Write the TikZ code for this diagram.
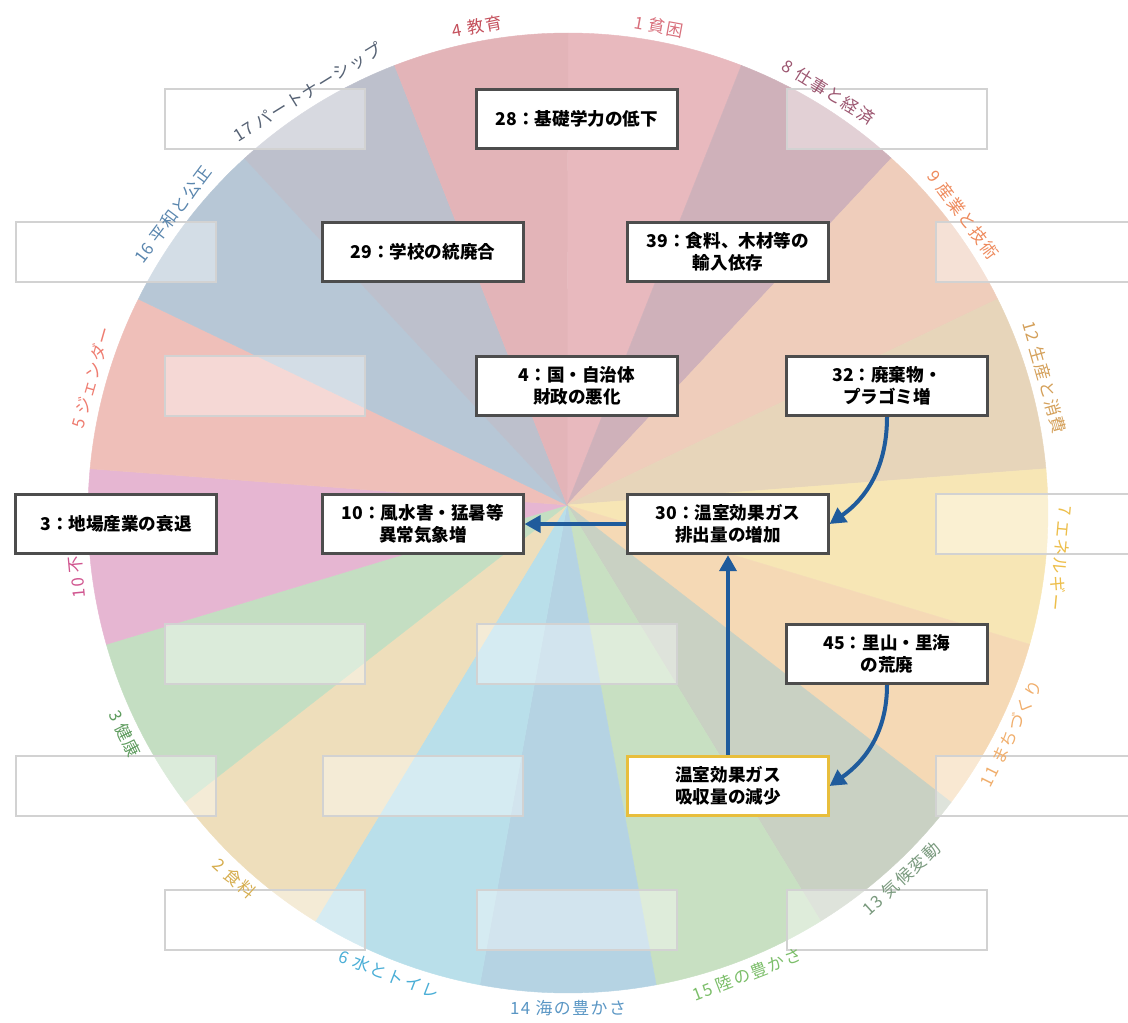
\documentclass[tikz,border=0pt]{standalone}
\usepackage{fontspec}
\setmainfont{Noto Sans CJK JP}
\newfontfamily\rimfont{Noto Sans CJK JP}[LetterSpace=9]
\usetikzlibrary{arrows.meta, positioning, calc}
% sector fills
\definecolor{pie1}{HTML}{E8B9BE}
\definecolor{pie2}{HTML}{EEDEBB}
\definecolor{pie3}{HTML}{C4DEC2}
\definecolor{pie4}{HTML}{E3B4B8}
\definecolor{pie5}{HTML}{EFBFB9}
\definecolor{pie6}{HTML}{B9DFEA}
\definecolor{pie7}{HTML}{F7E6B5}
\definecolor{pie8}{HTML}{CFB1BA}
\definecolor{pie9}{HTML}{EFCDBB}
\definecolor{pie10}{HTML}{E6B6D2}
\definecolor{pie11}{HTML}{F5D9B5}
\definecolor{pie12}{HTML}{E7D5BA}
\definecolor{pie13}{HTML}{C9D1C3}
\definecolor{pie14}{HTML}{B5D3E3}
\definecolor{pie15}{HTML}{C8E0C2}
\definecolor{pie16}{HTML}{B7C7D6}
\definecolor{pie17}{HTML}{BDC0CC}
% goal label colours
\definecolor{lab1}{HTML}{D8707C}
\definecolor{lab2}{HTML}{D6AE50}
\definecolor{lab3}{HTML}{5E9C5E}
\definecolor{lab4}{HTML}{C4505C}
\definecolor{lab5}{HTML}{EE7C70}
\definecolor{lab6}{HTML}{4AAED6}
\definecolor{lab7}{HTML}{EDBE4A}
\definecolor{lab8}{HTML}{9C5670}
\definecolor{lab9}{HTML}{EE8A5C}
\definecolor{lab10}{HTML}{D0558F}
\definecolor{lab11}{HTML}{F0AE6C}
\definecolor{lab12}{HTML}{D4A05A}
\definecolor{lab13}{HTML}{7A9A7E}
\definecolor{lab14}{HTML}{5A96C4}
\definecolor{lab15}{HTML}{7CBE6A}
\definecolor{lab16}{HTML}{5A86AE}
\definecolor{lab17}{HTML}{566274}
\definecolor{flowblue}{HTML}{1F5B9C}
\definecolor{boxgray}{HTML}{4D4D4D}
\definecolor{absgold}{HTML}{E8BE3C}

\begin{document}
\begin{tikzpicture}[x=0.025cm, y=0.025cm,
    cause/.style={draw=boxgray, line width=0.075cm, fill=white, minimum width=5cm, minimum height=1.48cm, align=center, inner sep=2pt, font=\fontsize{12.5}{15.5}\selectfont\bfseries},
    blank/.style={draw=gray!35, line width=0.05cm, fill=white, fill opacity=0.4, minimum width=5cm, minimum height=1.5cm},
    goal label/.style={inner sep=0pt, font=\rimfont\fontsize{12}{14}\selectfont},
    flow/.style={draw=flowblue, line width=0.1cm, -{Triangle[length=0.4cm, width=0.42cm]}}]
      \useasboundingbox (-568, -509) rectangle (560, 513);
      \clip (-568, -509) rectangle (560, 513);
      \coordinate (apex) at (-1, 8);

      % wheel of the 17 goals
      \foreach \g [count=\k from 0] in {1,8,9,12,7,11,13,15,14,6,2,3,10,5,16,17,4} {
        \pgfmathsetmacro\a{90-360/17*\k}
        \pgfmathsetmacro\b{\a-360/17}
        \fill[pie\g, draw=pie\g, line width=0.3pt] (apex) -- (\a:480) arc[start angle=\a, end angle=\b, radius=480] -- cycle;
      }

      % empty slots
      \foreach \x/\y [count=\i] in {-303/394, 319/394, -452/261, 468/261, -303/127, 468/-11, -303/-141, 9/-141, -452/-273, -145/-273, 468/-273, -303/-407, 9/-407, 319/-407}
        \node[blank] (blank\i) at (\x, \y) {};

      % goal names round the rim
      \foreach \g/\name [count=\k from 0] in {1/貧困, 8/仕事と経済, 9/産業と技術, 12/生産と消費, 7/エネルギー, 11/まちづくり, 13/気候変動, 15/陸の豊かさ, 14/海の豊かさ, 6/水とトイレ, 2/食料, 3/健康, 10/不平等, 5/ジェンダー, 16/平和と公正, 17/パートナーシップ, 4/教育} {
        \pgfmathsetmacro\a{90-360/17*(\k+0.5)}
        \pgfmathsetmacro\r{(\a<-10 && \a>-165) ? \a+90 : \a-90}
        \node[goal label, text=lab\g, rotate=\r] (goal\g) at (\a:495) {\g\ \name};
      }

      \node[cause] (n28) at (9, 394) {28：基礎学力の低下};
      \node[cause] (n29) at (-145, 261) {29：学校の統廃合};
      \node[cause] (n39) at (160, 261) {39：食料、木材等の\\輸入依存};
      \node[cause] (n4) at (9, 127) {4：国・自治体\\財政の悪化};
      \node[cause] (n32) at (319, 127) {32：廃棄物・\\プラゴミ増};
      \node[cause] (n3) at (-452, -11) {3：地場産業の衰退};
      \node[cause] (n10) at (-145, -11) {10：風水害・猛暑等\\異常気象増};
      \node[cause] (n30) at (160, -11) {30：温室効果ガス\\排出量の増加};
      \node[cause] (n45) at (319, -141) {45：里山・里海\\の荒廃};
      \node[cause, draw=absgold] (nabs) at (160, -273) {温室効果ガス\\吸収量の減少};

      \draw[flow] (n30) -- (n10);
      \draw[flow] (nabs) -- (n30);
      \draw[flow] (n32.south) to[out=-90, in=35] (n30.east);
      \draw[flow] (n45.south) to[out=-90, in=35] (nabs.east);
    \end{tikzpicture}
\end{document}
